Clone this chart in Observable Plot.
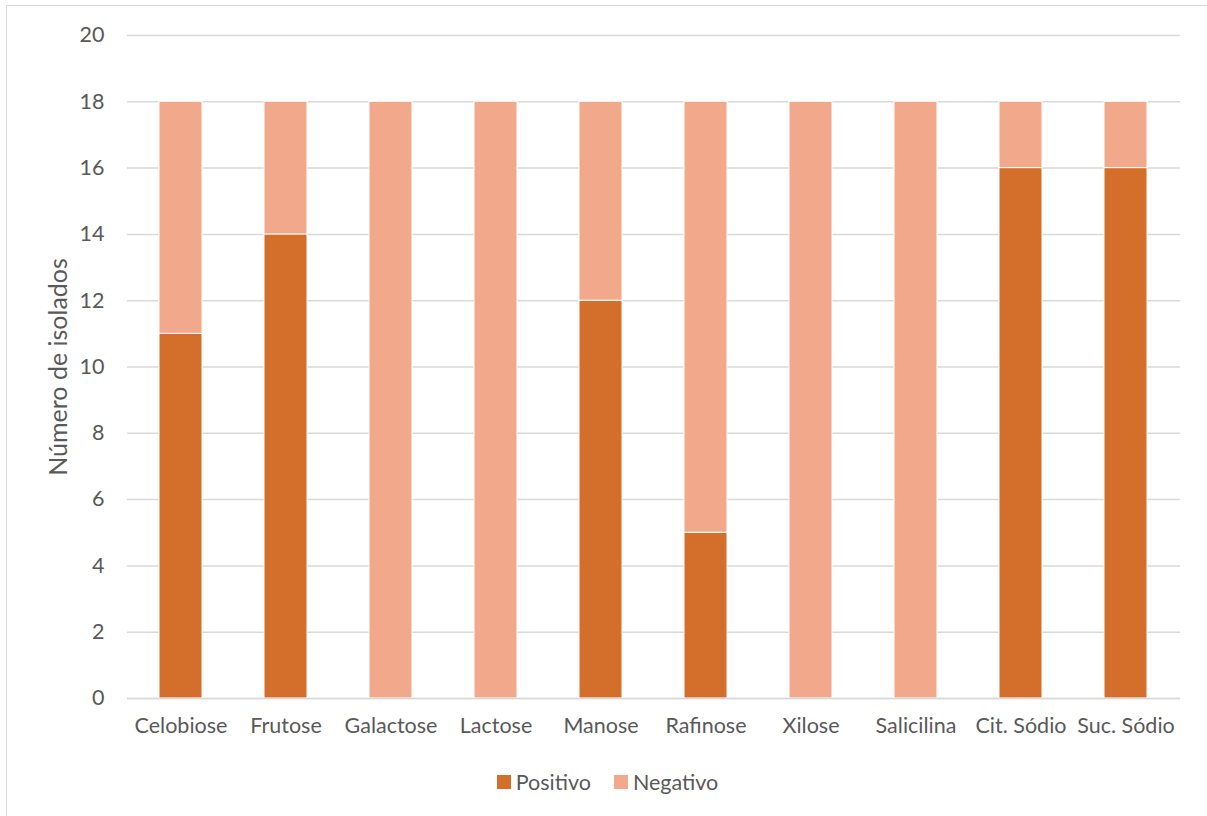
<!DOCTYPE html>
<html><head><meta charset="utf-8">
<script src="https://cdn.jsdelivr.net/npm/d3@7"></script>
<script src="https://cdn.jsdelivr.net/npm/@observablehq/plot@0.6"></script>
<style>
html,body{margin:0;padding:0;background:#fff;}
body{width:1207px;height:816px;position:relative;overflow:hidden;font-family:Lato,"Open Sans",sans-serif;}
#frame{position:absolute;left:6px;top:5px;width:1210px;height:830px;border:1.5px solid #D9D9D9;box-sizing:border-box;}
#chart{position:absolute;left:0;top:0;}
#legend{position:absolute;left:4px;top:769px;width:1207px;display:flex;justify-content:center;gap:23px;font-size:21.5px;color:#595959;}
#legend span.item{display:flex;align-items:center;}
#legend span.sw{display:inline-block;width:14px;height:14px;margin-right:5px;}
</style></head>
<body>
<div id="frame"></div>
<div id="chart"></div>
<div id="legend"></div>
<script>
const categories = ["Celobiose","Frutose","Galactose","Lactose","Manose","Rafinose","Xilose","Salicilina","Cit. Sódio","Suc. Sódio"];
const positivo = [11,14,0,0,12,5,0,0,16,16];
const negativo = [7,4,18,18,6,13,18,18,2,2];
const seriesNames = ["Positivo","Negativo"];
const seriesColors = ["#D36F2B","#F2A98B"];
const yTicks = [0,2,4,6,8,10,12,14,16,18,20];

const rows = [];
categories.forEach((c,i)=>{
  rows.push({cat:c, series:"Positivo", value:positivo[i]});
  rows.push({cat:c, series:"Negativo", value:negativo[i]});
});

const plot = Plot.plot({
  width:1207, height:740,
  marginLeft:127, marginRight:27, marginTop:35, marginBottom:42,
  style:{fontFamily:"Lato, 'Open Sans', sans-serif", fontSize:"21.5px", color:"#595959", background:"transparent"},
  x:{domain:categories, paddingInner:0.59, paddingOuter:0.295, label:null},
  y:{domain:[0,20], label:null},
  color:{domain:seriesNames, range:seriesColors},
  marks:[
    Plot.gridY(yTicks,{stroke:"#D9D9D9", strokeOpacity:1, strokeWidth:1.5}),
    Plot.barY(rows,{x:"cat", y:"value", fill:"series", order:seriesNames, stroke:"white", strokeWidth:1}),
    Plot.ruleY([0],{stroke:"#D9D9D9", strokeWidth:1.5}),
    Plot.axisY(yTicks,{tickSize:0, tickPadding:23, fontSize:21.5, fill:"#595959", label:null}),
    Plot.axisX({tickSize:0, tickPadding:19, fontSize:21.5, fill:"#595959", label:null}),
    Plot.text(["Número de isolados"],{frameAnchor:"left", textAnchor:"middle", dx:-69, rotate:-90, fontSize:25, fill:"#595959"})
  ]
});
document.getElementById("chart").appendChild(plot);

const leg = document.getElementById("legend");
seriesNames.forEach((n,i)=>{
  const it = document.createElement("span"); it.className="item";
  const sw = document.createElement("span"); sw.className="sw"; sw.style.background=seriesColors[i];
  it.appendChild(sw); it.appendChild(document.createTextNode(n));
  leg.appendChild(it);
});
</script>
</body></html>
